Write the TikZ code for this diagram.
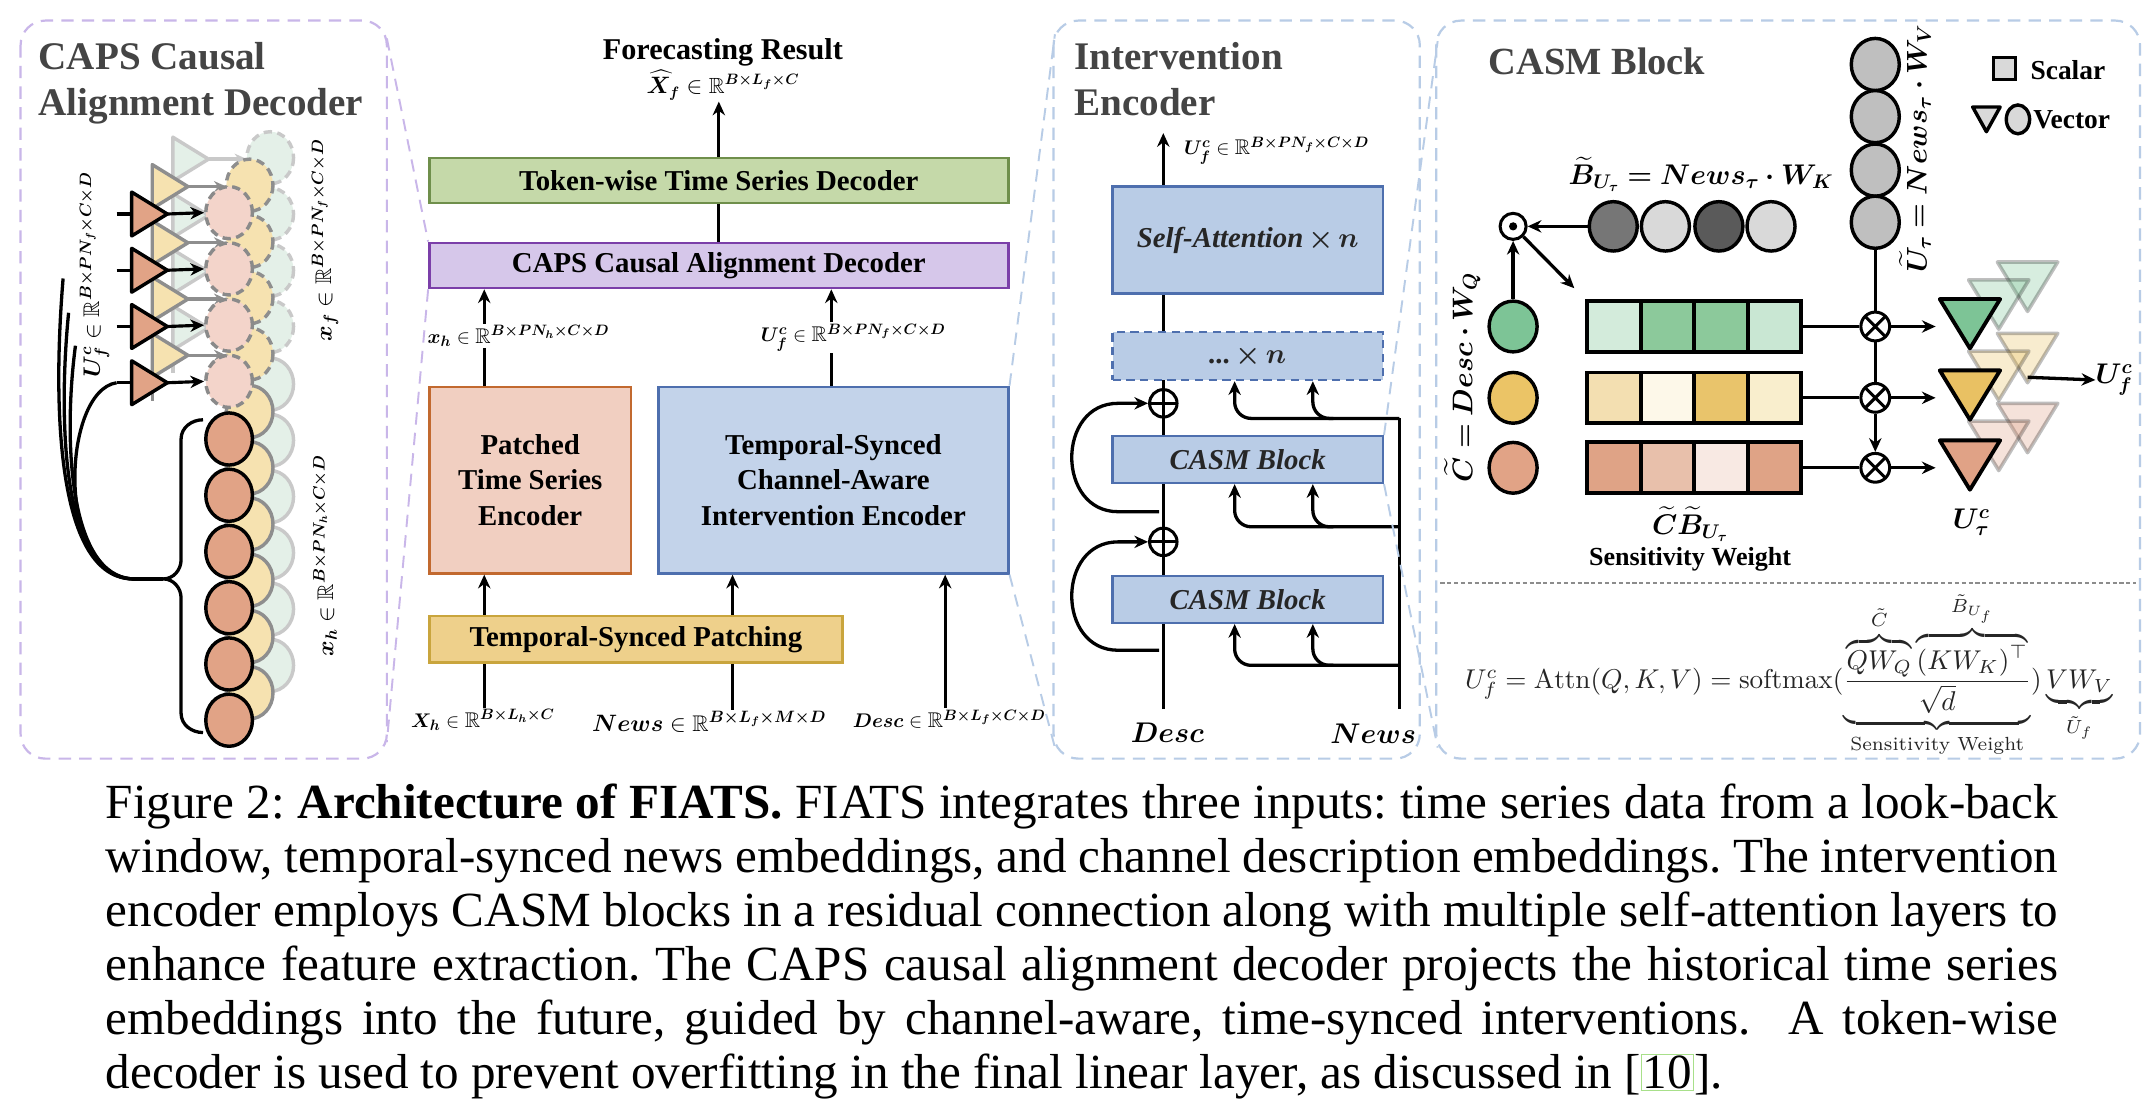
\documentclass[tikz,border=0pt]{standalone}
\usepackage{amsmath,amssymb,bm}
\usepackage{fontspec}
\newfontfamily\tms{Liberation Serif}
\usetikzlibrary{arrows.meta,shapes.geometric,calc}
\definecolor{ttl}{HTML}{444444}
\definecolor{pdsh}{HTML}{C9B6E9}
\definecolor{bdsh}{HTML}{B8CCE6}
\definecolor{gfill}{HTML}{C5D9A9}\definecolor{gdraw}{HTML}{6F8F4B}
\definecolor{pfill}{HTML}{D6C7EA}\definecolor{pdraw}{HTML}{7B3FA9}
\definecolor{ofill}{HTML}{F1CFC1}\definecolor{odraw}{HTML}{C2692F}
\definecolor{bfill}{HTML}{C3D3EA}\definecolor{bdraw}{HTML}{4E6FAE}
\definecolor{yfill}{HTML}{EED08B}\definecolor{ydraw}{HTML}{C9A53D}
\definecolor{ifill}{HTML}{B9CCE6}
\definecolor{salm}{HTML}{E1A386}
\definecolor{fpink}{HTML}{F3D4CA}
\definecolor{fgray}{HTML}{8A8A8A}
\definecolor{lye}{HTML}{F6E2B0}\definecolor{lyeb}{HTML}{8E8E8E}
\definecolor{lgr}{HTML}{E4F0E8}\definecolor{lgrb}{HTML}{C9C9C9}
\definecolor{lgray}{HTML}{D9D9D9}
\definecolor{mgray}{HTML}{BFBFBF}
\definecolor{dgA}{HTML}{767676}\definecolor{dgB}{HTML}{5A5A5A}
\definecolor{colG}{HTML}{7DC496}\definecolor{colY}{HTML}{EBC466}\definecolor{colS}{HTML}{E1A386}
\definecolor{gA}{HTML}{D3EBDB}\definecolor{gB}{HTML}{8CC99B}\definecolor{gD}{HTML}{C9E7D3}
\definecolor{yA}{HTML}{F3DFB1}\definecolor{yB}{HTML}{FDF8E9}\definecolor{yC}{HTML}{E9C46B}\definecolor{yD}{HTML}{F9EECD}
\definecolor{sA}{HTML}{DFA386}\definecolor{sB}{HTML}{E8C0AB}\definecolor{sC}{HTML}{F8E9E3}
\definecolor{tG}{HTML}{7DC496}\definecolor{tY}{HTML}{E9C163}\definecolor{tS}{HTML}{E0A286}
\definecolor{linkg}{HTML}{A8E08A}
\begin{document}
\begin{tikzpicture}[x=1pt,y=-1pt,
  ln/.style={line width=2.4pt},
  arr/.style={line width=2.4pt,-{Stealth[length=10pt,width=9pt]}},
  mbox/.style={draw, line width=1.8pt, inner sep=0pt, align=center, font=\tms\bfseries\fontsize{21}{26}\selectfont},
  ibox/.style={draw=bdraw, fill=ifill, line width=1.8pt, minimum width=197pt, inner sep=0pt, font=\tms\bfseries\itshape\fontsize{21}{24}\selectfont, text=black!85},
  mlbl/.style={inner sep=1pt, font=\fontsize{15.5}{18}\selectfont},
  ttlf/.style={font=\tms\bfseries\fontsize{28.5}{32}\selectfont, text=ttl, anchor=base west, inner sep=0pt},
  pnl/.style={dash pattern=on 9pt off 6pt, line width=1.6pt, rounded corners=18pt},
  zl/.style={dash pattern=on 9pt off 6pt, line width=1.4pt},
  circ/.style={ellipse, draw, line width=2.5pt, minimum width=34pt, minimum height=38pt, inner sep=0pt},
  cell/.style={draw, line width=2.8pt, minimum width=39pt, minimum height=37pt, inner sep=0pt},
  oplus/.style={circle, draw, line width=2.2pt, fill=white, minimum size=20pt, inner sep=0pt,
    path picture={\draw[line width=2.2pt] (path picture bounding box.north) -- (path picture bounding box.south) (path picture bounding box.west) -- (path picture bounding box.east);}},
  otimes/.style={circle, draw, line width=2.2pt, fill=white, minimum size=21pt, inner sep=0pt,
    path picture={\draw[line width=2.2pt] (path picture bounding box.north west) -- (path picture bounding box.south east) (path picture bounding box.south west) -- (path picture bounding box.north east);}},
  odotc/.style={circle, draw, line width=2.2pt, fill=white, minimum size=19pt, inner sep=0pt},
]
\fill[white] (0,0) rectangle (1568,801);
\useasboundingbox (0,0) rectangle (1568,801);

%================ LEFT PANEL =================
\draw[pnl, draw=pdsh] (15,15) rectangle (282,553);
\node[ttlf] (t1) at (28,51) {CAPS Causal};
\node[ttlf] (t2) at (28,84) {Alignment Decoder};

\foreach \L/\F/\D in {2/lgr/lgrb,1/lye/lyeb}{
  \pgfmathsetmacro{\ox}{15*\L}
  \pgfmathsetmacro{\oy}{20*\L}
  \draw[\D, line width=2.5pt] (96+\ox,140-\oy) -- (96+\ox,312-\oy);
  \foreach \k in {0,...,5}{
    \draw[fill=\F, draw=\D, line width=2.5pt] (167+\ox,320+41*\k-\oy) ellipse [x radius=17, y radius=19];
  }
  \foreach \k in {0,...,3}{
    \draw[fill=\F, draw=\D, line width=2.5pt, dash pattern=on 6pt off 4pt] (167+\ox,155+41*\k-\oy) ellipse [x radius=17, y radius=19];
    \draw[\D, line width=2.4pt, -{Stealth[length=9pt,width=8pt]}] (122+\ox,156+41*\k-\oy) -- (150+\ox,156+41*\k-\oy);
    \draw[fill=\F, draw=\D, line width=2.5pt, line join=round] (96+\ox,140+41*\k-\oy) -- (122+\ox,156+41*\k-\oy) -- (96+\ox,172+41*\k-\oy) -- cycle;
  }
}
\foreach \k in {0,...,5}{
  \node[circ, fill=salm] (h\k) at (167,320+41*\k) {};
}
\foreach \k in {0,...,3}{
  \node[circ, fill=fpink, draw=fgray, dash pattern=on 6pt off 4pt] (f\k) at (167,155+41*\k) {};
  \draw[fill=salm, line width=2.5pt, line join=round] (96,140+41*\k) -- (122,156+41*\k) -- (96,172+41*\k) -- cycle;
  \coordinate (ta\k) at (122,156+41*\k);
  \coordinate (ti\k) at (96,156+41*\k);
  \coordinate (ts\k) at (85,156+41*\k);
  \draw[arr, line width=2.3pt] (ta\k) -- (f\k.west);
  \draw[ln] (ts\k) -- (ti\k);
}
% bracket
\coordinate (bk) at (119,422);
\coordinate (fanroot) at (97,422);
\draw[ln] (148,306) to[out=180,in=90] (132,320) -- (132,408) to[out=-90,in=0] (bk) to[out=0,in=90] (132,436) -- (132,520) to[out=-90,in=180] (148,534);
\draw[ln] (bk) -- (fanroot);
\coordinate (fe1) at (46,203);
\coordinate (fe2) at (50,228);
\coordinate (fe3) at (55,252);
\draw[ln] (fanroot) .. controls (42,422) and (38,300) .. (fe1);
\draw[ln] (fanroot) .. controls (46,421) and (42,310) .. (fe2);
\draw[ln] (fanroot) .. controls (50,420) and (46,320) .. (fe3);
\draw[ln] (fanroot) .. controls (40,420) and (45,285) .. (ts3);

\node[rotate=90, font=\fontsize{16.5}{18}\selectfont, inner sep=0pt] (luf) at (69,200) {$\bm{U_f^c}\in\mathbb{R}^{\bm{B\times PN_f\times C\times D}}$};
\node[rotate=90, font=\fontsize{16.5}{18}\selectfont, inner sep=0pt] (lxf) at (237,175) {$\bm{x_f}\in\mathbb{R}^{\bm{B\times PN_f\times C\times D}}$};
\node[rotate=90, font=\fontsize{16.5}{18}\selectfont, inner sep=0pt] (lxh) at (237,405) {$\bm{x_h}\in\mathbb{R}^{\bm{B\times PN_h\times C\times D}}$};

%================ MIDDLE =================
\coordinate (c1) at (353,0);
\coordinate (c2) at (534,0);
\coordinate (c3) at (689,0);
\coordinate (c4) at (606,0);
\node[font=\tms\bfseries\fontsize{22}{24}\selectfont, inner sep=0pt] (fr) at (527,38) {Forecasting Result};
\node[mlbl, font=\fontsize{16}{18}\selectfont] (xhat) at (527,62) {$\bm{\widehat{X}_f}\in\mathbb{R}^{\bm{B\times L_f\times C}}$};
\node[mbox, fill=gfill, draw=gdraw, minimum width=422pt, minimum height=33pt] (tok) at (524,131.5) {Token-wise Time Series Decoder};
\node[mbox, fill=pfill, draw=pdraw, minimum width=422pt, minimum height=33pt] (caps) at (524,193.5) {CAPS Causal Alignment Decoder};
\node[mbox, fill=ofill, draw=odraw, minimum width=147pt, minimum height=136pt] (pts) at (386.5,350) {Patched\\Time Series\\Encoder};
\node[mbox, fill=bfill, draw=bdraw, minimum width=255pt, minimum height=136pt] (tsc) at (607.5,350) {Temporal-Synced\\Channel-Aware\\Intervention Encoder};
\node[mbox, fill=yfill, draw=ydraw, minimum width=301pt, minimum height=34pt] (tsp) at (463.5,466) {Temporal-Synced Patching};

\node[mlbl] (lxh2) at (378,245) {$\bm{x_h}\in\mathbb{R}^{\bm{B\times PN_h\times C\times D}}$};
\node[mlbl] (luf2) at (622,246) {$\bm{U_f^c}\in\mathbb{R}^{\bm{B\times PN_f\times C\times D}}$};
\node[mlbl] (lXh) at (352,525) {$\bm{X_h}\in\mathbb{R}^{\bm{B\times L_h\times C}}$};
\node[mlbl, font=\fontsize{16.5}{18}\selectfont] (lnews) at (517,526) {$\bm{News}\in\mathbb{R}^{\bm{B\times L_f\times M\times D}}$};
\node[mlbl] (ldesc) at (692,524) {$\bm{Desc}\in\mathbb{R}^{\bm{B\times L_f\times C\times D}}$};

\draw[arr] (tok.north) -- (tok.north |- xhat.south);
\draw[ln] (caps.north) -- (tok.south);
\draw[arr] (lxh2.north -| c1) -- (caps.south -| c1);
\draw[ln] (pts.north -| c1) -- (lxh2.south -| c1);
\draw[arr] (luf2.north -| c4) -- (caps.south -| c4);
\draw[ln] (tsc.north -| c4) -- (luf2.south -| c4);
\draw[arr] (tsp.north -| c1) -- (pts.south -| c1);
\draw[arr] (tsp.north -| c2) -- (tsc.south -| c2);
\draw[ln] (lXh.north -| c1) -- (tsp.south -| c1);
\draw[ln] (lnews.north -| c2) -- (tsp.south -| c2);
\draw[arr] (ldesc.north -| c3) -- (tsc.south -| c3);

% zoom guides
\coordinate (lp1) at (282,28);
\coordinate (lp2) at (282,541);
\draw[zl, draw=pdsh] (lp1) -- (caps.north west);
\draw[zl, draw=pdsh] (caps.south west) -- (lp2);

%================ INTERVENTION ENCODER =================
\draw[pnl, draw=bdsh] (768,15) rectangle (1035,553);
\node[ttlf] (t3) at (783,51) {Intervention};
\node[ttlf] (t4) at (783,84) {Encoder};
\coordinate (ip1) at (769,25);
\coordinate (ip2) at (769,545);
\draw[zl, draw=bdsh] (tsc.north east) -- (ip1);
\draw[zl, draw=bdsh] (tsc.south east) -- (ip2);

\coordinate (dbot) at (848,517);
\coordinate (dtop) at (848,97);
\coordinate (nbot) at (1020,517);
\coordinate (ntop) at (1020,305);
\draw[arr] (dbot) -- (dtop);
\draw[ln] (nbot) -- (ntop);
\node[ibox, minimum height=78pt] (sa) at (909.5,175) {Self-Attention\,$\bm{\times\, n}$};
\node[ibox, minimum height=35pt, dash pattern=on 6pt off 4pt] (dots) at (909.5,259.5) {\textbf{...}\,$\bm{\times\, n}$};
\node[ibox, minimum height=34pt] (cb1) at (909.5,335) {CASM Block};
\node[ibox, minimum height=34pt] (cb2) at (909.5,437) {CASM Block};
\node[oplus] (op1) at (848,294) {};
\node[oplus] (op2) at (848,395) {};
\node[mlbl, anchor=west] (lufi) at (862,110) {$\bm{U_f^c}\in\mathbb{R}^{\bm{B\times PN_f\times C\times D}}$};
\node[font=\fontsize{19.5}{21}\selectfont, inner sep=0pt] (ldsc) at (851,534) {$\bm{Desc}$};
\node[font=\fontsize{19.5}{21}\selectfont, inner sep=0pt] (lnws) at (1001,535) {$\bm{News}$};

% residuals
\coordinate (r1s) at (845,373);
\coordinate (r2s) at (845,474);
\draw[arr] (r1s) -- (815,373) .. controls (770,373) and (770,294) .. (815,294) -- (op1.west);
\draw[arr] (r2s) -- (815,474) .. controls (770,474) and (770,395) .. (815,395) -- (op2.west);

% news branches
\coordinate (nb1) at (1020,384);
\coordinate (nb2) at (1020,485);
\coordinate (nm0) at (972,305);
\coordinate (nm1) at (972,384);
\coordinate (nm2) at (972,485);
\draw[arr, rounded corners=12pt] (ntop) -| (dots.south -| 900,0);
\draw[arr, rounded corners=12pt] (nm0) -| (dots.south -| 957,0);
\draw[arr, rounded corners=12pt] (nb1) -| (cb1.south -| 900,0);
\draw[arr, rounded corners=12pt] (nm1) -| (cb1.south -| 957,0);
\draw[arr, rounded corners=12pt] (nb2) -| (cb2.south -| 900,0);
\draw[arr, rounded corners=12pt] (nm2) -| (cb2.south -| 957,0);

%================ CASM BLOCK =================
\draw[pnl, draw=bdsh] (1047,15) rectangle (1560,553);
\coordinate (cp1) at (1048,30);
\coordinate (cp2) at (1048,545);
\draw[zl, draw=bdsh] (cb1.north east) -- (cp1);
\draw[zl, draw=bdsh] (cb1.south east) -- (cp2);
\node[font=\tms\bfseries\fontsize{28}{30}\selectfont, text=ttl, anchor=base west, inner sep=0pt] (t5) at (1085,54) {CASM Block};

% legend
\node[draw, line width=2.5pt, fill=lgray, minimum size=16pt, inner sep=0pt] (lsq) at (1461,50) {};
\node[anchor=west, font=\tms\bfseries\fontsize{20}{22}\selectfont, inner sep=0pt] (lsc) at (1480,51) {Scalar};
\draw[fill=lgray, line width=2.5pt, line join=round] (1438,78) -- (1458,78) -- (1448,96) -- cycle;
\node[ellipse, draw, line width=2.5pt, fill=lgray, minimum width=17pt, minimum height=21pt, inner sep=0pt] (lci) at (1471,87) {};
\node[anchor=west, font=\tms\bfseries\fontsize{20}{22}\selectfont, inner sep=0pt] (lve) at (1482,87) {Vector};

% value column
\foreach \k/\yy in {1/47,2/85,3/124,4/162}{
  \node[circ, fill=mgray, minimum width=35pt] (gv\k) at (1367,\yy) {};
}
\node[rotate=90, font=\fontsize{20}{22}\selectfont, inner sep=0pt] (lu) at (1396,108) {$\bm{\widetilde{U}_\tau = News_\tau\cdot W_V}$};

% key row
\node[font=\fontsize{20.5}{22}\selectfont, inner sep=0pt] (lb) at (1240,127) {$\bm{\widetilde{B}_{U_\tau} = News_\tau\cdot W_K}$};
\node[circ, fill=dgA, minimum width=35pt, minimum height=36pt] (b1) at (1176,165) {};
\node[circ, fill=lgray, minimum width=35pt, minimum height=36pt] (b2) at (1214,165) {};
\node[circ, fill=dgB, minimum width=35pt, minimum height=36pt] (b3) at (1253,165) {};
\node[circ, fill=lgray, minimum width=35pt, minimum height=36pt] (b4) at (1291,165) {};
\node[odotc] (od) at (1103,165) {};
\fill (od.center) circle (3pt);

% rows
\foreach \r/\yy/\cc/\ca/\cb/\cd/\ce/\tc in {g/238/colG/gA/gB/gB/gD/tG, y/290/colY/yA/yB/yC/yD/tY, s/341/colS/sA/sB/sC/sA/tS}{
  \node[circ, fill=\cc, minimum width=35pt, minimum height=37pt] (c\r) at (1103,\yy) {};
  \node[cell, fill=\ca] (\r1) at (1176.5,\yy) {};
  \node[cell, fill=\cb] (\r2) at (1215.5,\yy) {};
  \node[cell, fill=\cd] (\r3) at (1254.5,\yy) {};
  \node[cell, fill=\ce] (\r4) at (1293.5,\yy) {};
  \node[otimes] (ot\r) at (1367,\yy) {};
  \coordinate (ti\r) at (1411,\yy);
  \draw[ln] (\r4.east) -- (ot\r.west);
  \draw[arr] (ot\r.east) -- (ti\r);
}
% faded triangles
\foreach \yy/\tc in {238/tG,290/tY,341/tS}{
  \foreach \o/\p in {42/27,21/14}{
    \draw[fill=\tc, fill opacity=0.3, draw=black, draw opacity=0.25, line width=2.6pt, line join=round] (1414+\o,\yy-20-\p) -- (1458+\o,\yy-20-\p) -- (1436+\o,\yy+16-\p) -- cycle;
  }
}
\foreach \yy/\tc in {238/tG,290/tY,341/tS}{
  \draw[fill=\tc, line width=2.8pt, line join=round] (1414,\yy-20) -- (1458,\yy-20) -- (1436,\yy+16) -- cycle;
}
\draw[ln] (gv4.south) -- (otg.north);
\draw[ln] (otg.south) -- (oty.north);
\draw[arr] (oty.south) -- (ots.north);
\draw[arr] (b1.west) -- (od.east);
\draw[arr] (cg.north) -- (od.south);
\draw[arr] (od.south east) -- ($(g1.north west)+(-8,-8)$);

\node[rotate=90, font=\fontsize{22}{24}\selectfont, inner sep=0pt] (lc) at (1066,275) {$\bm{\widetilde{C} = Desc\cdot W_Q}$};
\node[font=\fontsize{20}{22}\selectfont, inner sep=0pt] (lcb) at (1232,382) {$\bm{\widetilde{C}\widetilde{B}_{U_\tau}}$};
\node[font=\tms\bfseries\fontsize{19}{21}\selectfont, inner sep=0pt] (lsw) at (1232,408) {Sensitivity Weight};
\node[font=\fontsize{20}{22}\selectfont, inner sep=0pt] (lut) at (1437,381) {$\bm{U_\tau^c}$};
\coordinate (ufo) at (1478,275);
\node[font=\fontsize{22}{24}\selectfont, inner sep=0pt] (lufc) at (1541,277) {$\bm{U_f^c}$};
\draw[arr] (ufo) -- (lufc.west);

\coordinate (dl1) at (1050,425);
\coordinate (dl2) at (1557,425);
\draw[black!45, dash pattern=on 3pt off 2pt, line width=0.8pt] (dl1) -- (dl2);

\node[inner sep=0pt, text=black!85] (frm) at (1304,492) {\resizebox{472pt}{!}{$U_f^c = \mathrm{Attn}(Q,K,V) = \mathrm{softmax}(\underbrace{\frac{\overbrace{QW_Q}^{\tilde{C}}\overbrace{(KW_K)^{\top}}^{\tilde{B}_{U_f}}}{\sqrt{d}}}_{\text{Sensitivity Weight}})\underbrace{VW_V}_{\tilde{U}_f}$}};

%================ CAPTION =================
\node[anchor=north west, inner sep=0pt, text width=1423pt, align=justify, font=\tms\fontsize{35.8}{39.4}\selectfont] (cap) at (77,571) {\frenchspacing\hyphenpenalty=10000 Figure 2: \textbf{Architecture of FIATS.} FIATS integrates three inputs: time series data from a look-back\linebreak
window, temporal-synced news embeddings, and channel description embeddings. The intervention\linebreak
encoder employs CASM blocks in a residual connection along with multiple self-attention layers to\linebreak
enhance feature extraction. The CAPS causal alignment decoder projects the historical time series\linebreak
embeddings into the future, guided by channel-aware, time-synced interventions.\ \ A token-wise\linebreak
decoder is used to prevent overfitting in the final linear layer, as discussed in [{\setlength{\fboxsep}{0.5pt}\setlength{\fboxrule}{1pt}\fcolorbox{linkg}{white}{10}}].};
\end{tikzpicture}
\end{document}
